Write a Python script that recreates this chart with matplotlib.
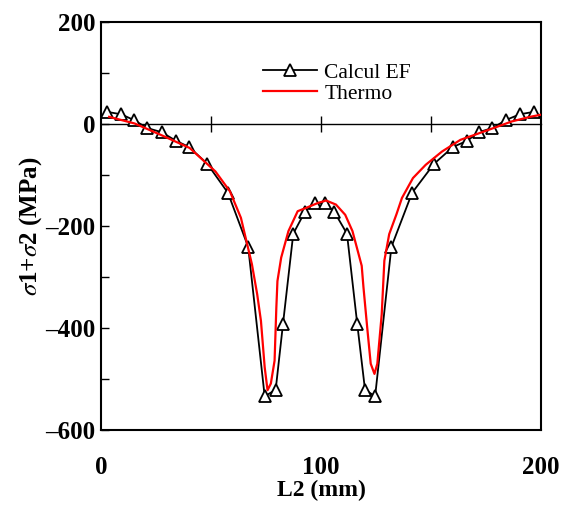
import matplotlib
matplotlib.use("Agg")
import matplotlib.pyplot as plt
from matplotlib.ticker import MultipleLocator, FuncFormatter

# Calcul EF (triangles)
ef_x = [2.5, 9.2, 14.8, 21.1, 27.5, 34.1, 40.0, 48.3, 57.7, 66.9, 74.4, 79.4,
        82.7, 87.4, 92.7, 97.2, 101.8, 106.0, 111.8, 116.5, 120.0, 124.6,
        132.0, 141.4, 151.4, 160.0, 166.4, 171.7, 177.9, 184.2, 190.3, 197.0]
ef_y = [24, 19, 8, -8, -16, -33, -45, -78, -135, -241, -534, -521,
        -393, -215, -172, -155, -155, -172, -215, -393, -521, -534,
        -241, -135, -78, -45, -33, -16, -8, 8, 19, 24]

# Thermo (red curve)
th_x = [3.7, 15.3, 27.0, 40.3, 52.0, 58.6, 63.6, 68.6, 71.0, 72.7, 74.4, 75.7,
        77.2, 78.9, 79.7, 80.2, 81.9, 85.2, 89.4, 93.5, 98.5, 102.3, 106.8,
        111.0, 114.3, 118.5, 119.3, 121.0, 122.6, 124.3, 125.6, 127.6, 128.8,
        131.0, 134.3, 136.8, 141.8, 147.6, 155.0, 163.4, 170.0, 178.4, 186.7,
        195.0, 202.0]
th_y = [14, 1, -21, -47, -93, -132, -184, -275, -334, -386, -477, -522,
        -509, -464, -360, -308, -262, -210, -171, -164, -155, -150, -158,
        -178, -210, -278, -320, -399, -470, -490, -470, -373, -268,
        -216, -177, -145, -106, -80, -54, -31, -21, -8, 5,
        14, 20]

plt.rcParams['font.family'] = ['Liberation Serif', 'DejaVu Serif']
plt.rcParams['mathtext.fontset'] = 'stix'

fig = plt.figure(figsize=(5.71, 5.11), dpi=100)
ax = fig.add_axes([101 / 571, 81 / 511, 440 / 571, 408 / 511])

ax.plot(ef_x, ef_y, color='black', lw=1.3, marker='^', ms=9,
        mfc='white', mec='black', mew=1.3, label='Calcul EF', zorder=3)
ax.plot(th_x, th_y, color='#ff0000', lw=1.6, label='Thermo', zorder=4)

ax.set_xlim(0, 200)
ax.set_ylim(-600, 200)
ax.xaxis.set_major_locator(MultipleLocator(100))
ax.yaxis.set_major_locator(MultipleLocator(200))
ax.yaxis.set_minor_locator(MultipleLocator(100))
ax.yaxis.set_major_formatter(FuncFormatter(
    lambda v, p: ('\u2013%d' % -v) if v < 0 else '%d' % v))
ax.tick_params(axis='x', length=0, pad=19, labelsize=18)
ax.tick_params(axis='y', which='both', direction='in', length=6, width=1,
               labelsize=18, pad=4)
for lab in ax.get_xticklabels() + ax.get_yticklabels():
    lab.set_fontweight('bold')
for s in ax.spines.values():
    s.set_linewidth(1.5)

# zero line with crossing ticks
sec = ax.secondary_xaxis(0.75)
sec.set_xticks([50, 100, 150])
sec.tick_params(direction='inout', length=12, width=1, labelbottom=False,
                labeltop=False)
sec.spines['top'].set_linewidth(1)
sec.spines['bottom'].set_linewidth(1)

ax.set_xlabel('L2 (mm)', fontsize=17, fontweight='bold', labelpad=0)
ax.set_ylabel(r'$\sigma$1+$\sigma$2 (MPa)', fontsize=18, fontweight='bold',
              labelpad=1)

ax.legend(loc='upper left', bbox_to_anchor=(0.368, 0.9), frameon=False,
          fontsize=15.5, handlelength=2.5, handletextpad=0.35,
          labelspacing=0.05, borderpad=0, borderaxespad=0)

fig.savefig('out.png', dpi=100)
